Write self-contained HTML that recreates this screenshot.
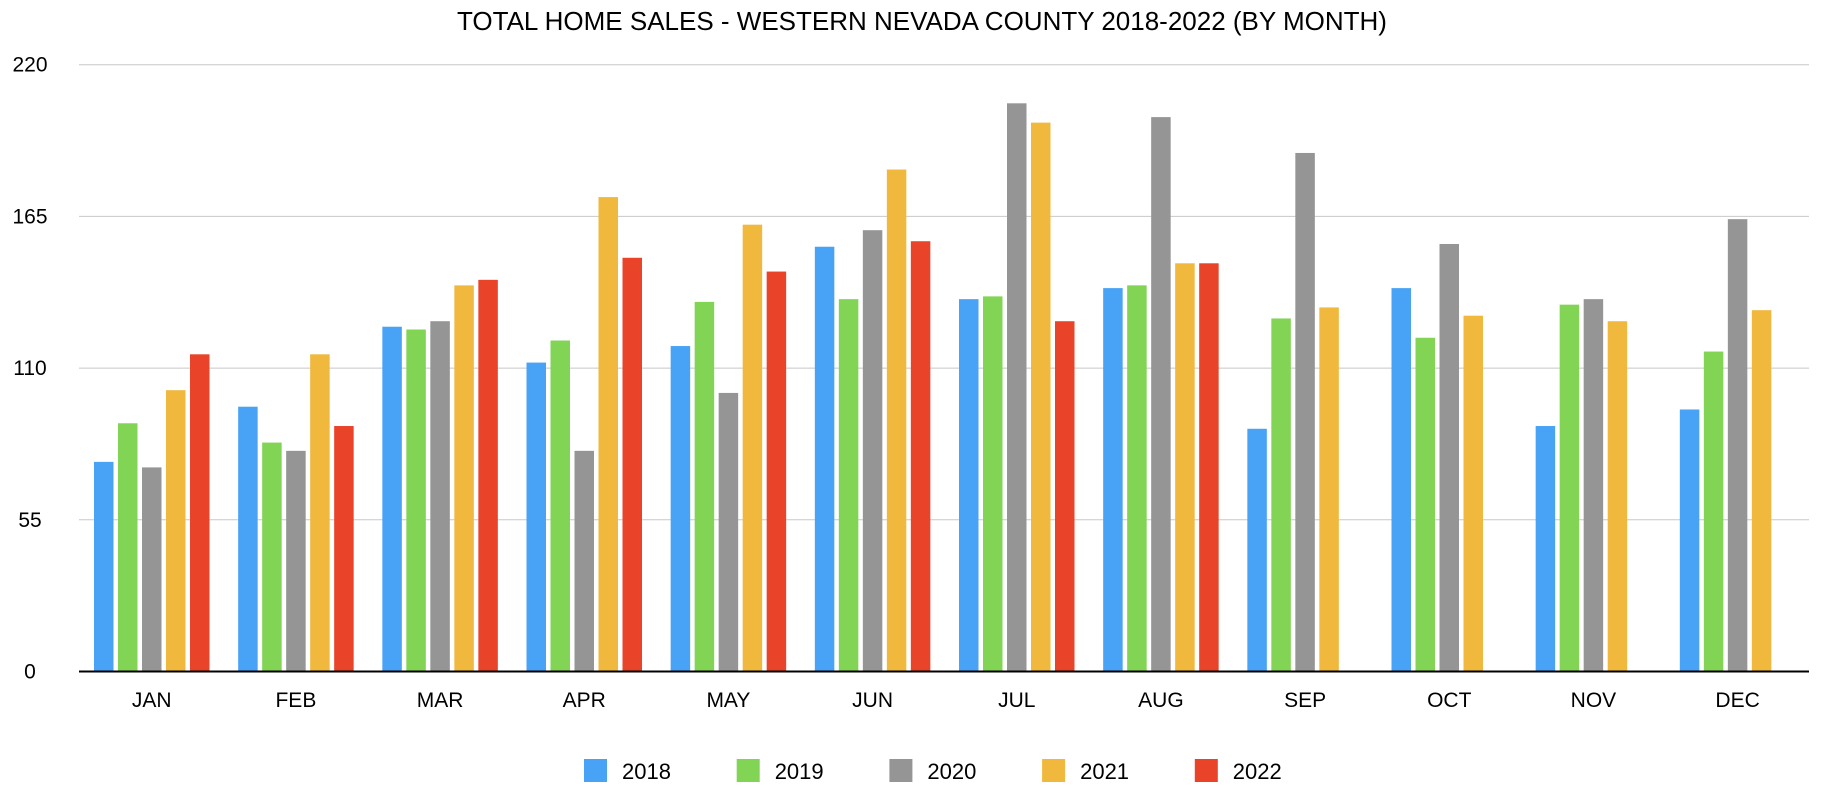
<!DOCTYPE html>
<html><head><meta charset="utf-8"><style>
html,body{margin:0;padding:0;background:#fff;}
svg{display:block;font-family:"Liberation Sans",Arial,sans-serif;}
</style></head><body>
<svg id="chart" width="1844" height="798" viewBox="0 0 1844 798" xmlns="http://www.w3.org/2000/svg">
<text x="922" y="30" text-anchor="middle" font-size="26" fill="#000">TOTAL HOME SALES - WESTERN NEVADA COUNTY 2018-2022 (BY MONTH)</text>
<g id="grid"></g><g id="bars"></g><g id="axis"></g><g id="legend"></g>
</svg>
<script>
const months = ["JAN","FEB","MAR","APR","MAY","JUN","JUL","AUG","SEP","OCT","NOV","DEC"];
const years = ["2018","2019","2020","2021","2022"];
const colors = ["#48a3f7","#82d454","#959595","#f0b93e","#e9432a"];
const s2018 = [76,96,125,112,118,154,135,139,88,139,89,95];
const s2019 = [90,83,124,120,134,135,136,140,128,121,133,116];
const s2020 = [74,80,127,80,101,160,206,201,188,155,135,164];
const s2021 = [102,115,140,172,162,182,199,148,132,129,127,131];
const s2022 = [115,89,142,150,145,156,127,148,null,null,null,null];
const ticks = [0,55,110,165,220];
const series = [s2018,s2019,s2020,s2021,s2022];
const NS="http://www.w3.org/2000/svg";
const X0=79,X1=1809,Y0=671.5,Y1=64.7,VMAX=220;
const y=v=>Y0-(v/VMAX)*(Y0-Y1);
const mw=(X1-X0)/months.length;
function mk(t,a,p){const e=document.createElementNS(NS,t);for(const k in a)e.setAttribute(k,a[k]);p.appendChild(e);return e;}
const grid=document.getElementById('grid'),bars=document.getElementById('bars'),axis=document.getElementById('axis'),legend=document.getElementById('legend');
ticks.forEach(t=>{
  if(t>0){const l=mk('line',{x1:X0,x2:X1,y1:y(t),y2:y(t),stroke:'#c8c8c8','stroke-width':1},grid);
  
  }
  const tx=mk('text',{x:30,y:y(t)+7,'text-anchor':'middle','font-size':21,fill:'#000'},axis);
  tx.textContent=t;
  
  
});
const bw=19.5,step=24,off=15;
months.forEach((m,i)=>{
  series.forEach((s,j)=>{
    const v=s[i]; if(v==null) return;
    const r=mk('rect',{x:X0+i*mw+off+j*step,y:y(v),width:bw,height:Y0-y(v),fill:colors[j]},bars);
    
    
  });
  const t=mk('text',{x:X0+i*mw+off+2*step+bw/2,y:707,'text-anchor':'middle','font-size':21,fill:'#000'},axis);
  t.textContent=m;
  
  
});
const ax=mk('line',{x1:X0,x2:X1,y1:Y0,y2:Y0,stroke:'#000','stroke-width':2},axis);


years.forEach((yr,j)=>{
  const lx=584+j*152.7;
  const g=mk('g',{},legend);
  
  
  mk('rect',{x:lx,y:759,width:23,height:23,fill:colors[j]},g);
  const t=mk('text',{x:lx+38,y:779,'font-size':22,fill:'#000'},g);
  t.textContent=yr;
});
</script>
</body></html>
